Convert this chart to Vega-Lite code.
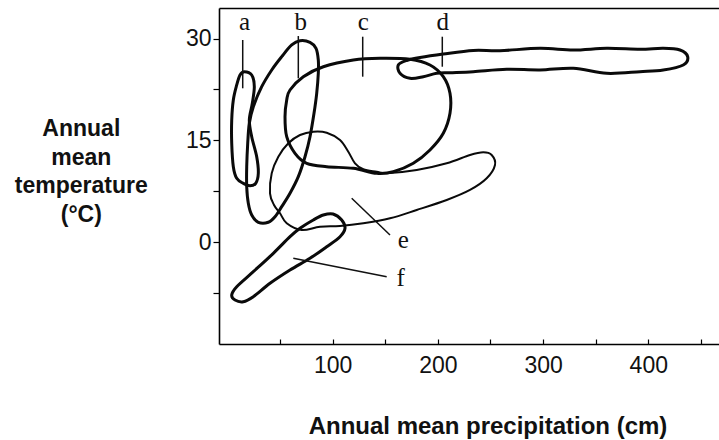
{
  "$schema": "https://vega.github.io/schema/vega-lite/v6.json",
  "width": 500,
  "height": 336,
  "autosize": {"type": "none"},
  "padding": {"left": 219, "top": 8, "right": 0, "bottom": 96},
  "background": "#ffffff",
  "config": {
    "view": {"stroke": null},
    "axis": {"grid": false, "domainColor": "#000000", "domainWidth": 1.6, "tickColor": "#000000", "tickWidth": 1.2, "labelColor": "#111111", "titleColor": "#111111", "labelFont": "Liberation Sans", "titleFont": "Liberation Sans"}
  },
  "datasets": {
    "curves": [
      {"biome":"a","order":0,"precipitation":16.06,"temperature":25.12},
      {"biome":"a","order":1,"precipitation":23.09,"temperature":24.63},
      {"biome":"a","order":2,"precipitation":25.56,"temperature":22.91},
      {"biome":"a","order":3,"precipitation":23.66,"temperature":20.46},
      {"biome":"a","order":4,"precipitation":20.81,"temperature":18.0},
      {"biome":"a","order":5,"precipitation":23.09,"temperature":15.54},
      {"biome":"a","order":6,"precipitation":27.84,"temperature":12.59},
      {"biome":"a","order":7,"precipitation":29.36,"temperature":10.15},
      {"biome":"a","order":8,"precipitation":26.89,"temperature":8.67},
      {"biome":"a","order":9,"precipitation":21.48,"temperature":8.32},
      {"biome":"a","order":10,"precipitation":15.11,"temperature":8.67},
      {"biome":"a","order":11,"precipitation":8.84,"temperature":9.41},
      {"biome":"a","order":12,"precipitation":5.61,"temperature":11.12},
      {"biome":"a","order":13,"precipitation":4.09,"temperature":14.57},
      {"biome":"a","order":14,"precipitation":4.09,"temperature":18.0},
      {"biome":"a","order":15,"precipitation":5.61,"temperature":20.95},
      {"biome":"a","order":16,"precipitation":8.84,"temperature":23.16},
      {"biome":"a","order":17,"precipitation":11.97,"temperature":24.63},

      {"biome":"b","order":0,"precipitation":68.99,"temperature":29.68},
      {"biome":"b","order":1,"precipitation":78.49,"temperature":29.45},
      {"biome":"b","order":2,"precipitation":84.2,"temperature":28.56},
      {"biome":"b","order":3,"precipitation":86.38,"temperature":26.84},
      {"biome":"b","order":4,"precipitation":86.38,"temperature":24.88},
      {"biome":"b","order":5,"precipitation":84.86,"temperature":21.93},
      {"biome":"b","order":6,"precipitation":82.3,"temperature":18.99},
      {"biome":"b","order":7,"precipitation":78.49,"temperature":15.54},
      {"biome":"b","order":8,"precipitation":73.74,"temperature":12.59},
      {"biome":"b","order":9,"precipitation":67.38,"temperature":9.65},
      {"biome":"b","order":10,"precipitation":59.49,"temperature":7.2},
      {"biome":"b","order":11,"precipitation":51.6,"temperature":5.23},
      {"biome":"b","order":12,"precipitation":45.23,"temperature":3.75},
      {"biome":"b","order":13,"precipitation":38.87,"temperature":2.93},
      {"biome":"b","order":14,"precipitation":29.36,"temperature":2.93},
      {"biome":"b","order":15,"precipitation":23.09,"temperature":4.0},
      {"biome":"b","order":16,"precipitation":19.86,"temperature":5.73},
      {"biome":"b","order":17,"precipitation":18.34,"temperature":8.17},
      {"biome":"b","order":18,"precipitation":18.34,"temperature":11.12},
      {"biome":"b","order":19,"precipitation":19.29,"temperature":14.57},
      {"biome":"b","order":20,"precipitation":20.81,"temperature":17.51},
      {"biome":"b","order":21,"precipitation":24.61,"temperature":19.96},
      {"biome":"b","order":22,"precipitation":32.6,"temperature":22.91},
      {"biome":"b","order":23,"precipitation":42.1,"temperature":25.37},
      {"biome":"b","order":24,"precipitation":51.6,"temperature":27.33},
      {"biome":"b","order":25,"precipitation":61.1,"temperature":29.05},

      {"biome":"c","order":0,"precipitation":59.49,"temperature":22.42},
      {"biome":"c","order":1,"precipitation":72.13,"temperature":24.38},
      {"biome":"c","order":2,"precipitation":91.13,"temperature":25.85},
      {"biome":"c","order":3,"precipitation":119.64,"temperature":26.84},
      {"biome":"c","order":4,"precipitation":145.02,"temperature":27.09},
      {"biome":"c","order":5,"precipitation":173.52,"temperature":26.94},
      {"biome":"c","order":6,"precipitation":192.53,"temperature":26.1},
      {"biome":"c","order":7,"precipitation":205.17,"temperature":24.38},
      {"biome":"c","order":8,"precipitation":211.54,"temperature":21.93},
      {"biome":"c","order":9,"precipitation":211.54,"temperature":18.99},
      {"biome":"c","order":10,"precipitation":205.17,"temperature":16.04},
      {"biome":"c","order":11,"precipitation":192.53,"temperature":13.58},
      {"biome":"c","order":12,"precipitation":176.66,"temperature":11.62},
      {"biome":"c","order":13,"precipitation":157.65,"temperature":10.38},
      {"biome":"c","order":14,"precipitation":141.88,"temperature":10.15},
      {"biome":"c","order":15,"precipitation":119.64,"temperature":10.88},
      {"biome":"c","order":16,"precipitation":94.37,"temperature":11.12},
      {"biome":"c","order":17,"precipitation":75.36,"temperature":11.62},
      {"biome":"c","order":18,"precipitation":64.24,"temperature":13.09},
      {"biome":"c","order":19,"precipitation":56.35,"temperature":15.54},
      {"biome":"c","order":20,"precipitation":54.74,"temperature":18.49},
      {"biome":"c","order":21,"precipitation":56.35,"temperature":20.95},

      {"biome":"d","order":0,"precipitation":164.02,"temperature":24.88},
      {"biome":"d","order":1,"precipitation":162.41,"temperature":26.1},
      {"biome":"d","order":2,"precipitation":170.39,"temperature":26.77},
      {"biome":"d","order":3,"precipitation":183.03,"temperature":27.21},
      {"biome":"d","order":4,"precipitation":205.17,"temperature":27.72},
      {"biome":"d","order":5,"precipitation":233.68,"temperature":28.24},
      {"biome":"d","order":6,"precipitation":259.05,"temperature":28.21},
      {"biome":"d","order":7,"precipitation":297.06,"temperature":28.56},
      {"biome":"d","order":8,"precipitation":328.71,"temperature":28.31},
      {"biome":"d","order":9,"precipitation":360.45,"temperature":28.56},
      {"biome":"d","order":10,"precipitation":392.09,"temperature":28.42},
      {"biome":"d","order":11,"precipitation":414.24,"temperature":28.56},
      {"biome":"d","order":12,"precipitation":430.11,"temperature":28.31},
      {"biome":"d","order":13,"precipitation":437.42,"temperature":27.33},
      {"biome":"d","order":14,"precipitation":433.24,"temperature":26.1},
      {"biome":"d","order":15,"precipitation":414.24,"temperature":25.37},
      {"biome":"d","order":16,"precipitation":392.09,"temperature":25.12},
      {"biome":"d","order":17,"precipitation":360.45,"temperature":24.88},
      {"biome":"d","order":18,"precipitation":328.71,"temperature":25.62},
      {"biome":"d","order":19,"precipitation":297.06,"temperature":25.37},
      {"biome":"d","order":20,"precipitation":265.42,"temperature":25.47},
      {"biome":"d","order":21,"precipitation":233.68,"temperature":25.12},
      {"biome":"d","order":22,"precipitation":211.54,"temperature":24.97},
      {"biome":"d","order":23,"precipitation":198.9,"temperature":24.88},
      {"biome":"d","order":24,"precipitation":186.16,"temperature":24.38},
      {"biome":"d","order":25,"precipitation":173.52,"temperature":24.14},

      {"biome":"e","order":0,"precipitation":68.99,"temperature":15.79},
      {"biome":"e","order":1,"precipitation":81.63,"temperature":16.28},
      {"biome":"e","order":2,"precipitation":94.37,"temperature":16.13},
      {"biome":"e","order":3,"precipitation":107.0,"temperature":15.05},
      {"biome":"e","order":4,"precipitation":114.89,"temperature":13.33},
      {"biome":"e","order":5,"precipitation":121.26,"temperature":11.62},
      {"biome":"e","order":6,"precipitation":129.15,"temperature":10.74},
      {"biome":"e","order":7,"precipitation":141.88,"temperature":10.38},
      {"biome":"e","order":8,"precipitation":151.38,"temperature":10.15},
      {"biome":"e","order":9,"precipitation":179.89,"temperature":10.63},
      {"biome":"e","order":10,"precipitation":208.4,"temperature":11.62},
      {"biome":"e","order":11,"precipitation":230.54,"temperature":12.84},
      {"biome":"e","order":12,"precipitation":243.18,"temperature":13.24},
      {"biome":"e","order":13,"precipitation":251.16,"temperature":12.84},
      {"biome":"e","order":14,"precipitation":254.3,"temperature":11.37},
      {"biome":"e","order":15,"precipitation":246.41,"temperature":9.41},
      {"biome":"e","order":16,"precipitation":230.54,"temperature":7.69},
      {"biome":"e","order":17,"precipitation":208.4,"temperature":6.21},
      {"biome":"e","order":18,"precipitation":179.89,"temperature":4.74},
      {"biome":"e","order":19,"precipitation":154.52,"temperature":3.52},
      {"biome":"e","order":20,"precipitation":129.15,"temperature":2.78},
      {"biome":"e","order":21,"precipitation":107.0,"temperature":2.38},
      {"biome":"e","order":22,"precipitation":88.0,"temperature":2.28},
      {"biome":"e","order":23,"precipitation":70.61,"temperature":1.79},
      {"biome":"e","order":24,"precipitation":56.35,"temperature":2.78},
      {"biome":"e","order":25,"precipitation":49.99,"temperature":4.26},
      {"biome":"e","order":26,"precipitation":44.28,"temperature":5.48},
      {"biome":"e","order":27,"precipitation":40.48,"temperature":7.2},
      {"biome":"e","order":28,"precipitation":42.1,"temperature":10.15},
      {"biome":"e","order":29,"precipitation":48.37,"temperature":12.59},
      {"biome":"e","order":30,"precipitation":57.87,"temperature":14.57},

      {"biome":"f","order":0,"precipitation":81.63,"temperature":3.27},
      {"biome":"f","order":1,"precipitation":91.13,"temperature":4.0},
      {"biome":"f","order":2,"precipitation":100.35,"temperature":4.15},
      {"biome":"f","order":3,"precipitation":108.62,"temperature":3.27},
      {"biome":"f","order":4,"precipitation":111.76,"temperature":2.05},
      {"biome":"f","order":5,"precipitation":107.0,"temperature":0.81},
      {"biome":"f","order":6,"precipitation":94.37,"temperature":-0.67},
      {"biome":"f","order":7,"precipitation":78.49,"temperature":-2.37},
      {"biome":"f","order":8,"precipitation":59.49,"temperature":-4.1},
      {"biome":"f","order":9,"precipitation":40.48,"temperature":-6.06},
      {"biome":"f","order":10,"precipitation":24.61,"temperature":-8.03},
      {"biome":"f","order":11,"precipitation":15.11,"temperature":-8.77},
      {"biome":"f","order":12,"precipitation":7.22,"temperature":-8.52},
      {"biome":"f","order":13,"precipitation":4.09,"temperature":-7.78},
      {"biome":"f","order":14,"precipitation":8.84,"temperature":-6.56},
      {"biome":"f","order":15,"precipitation":24.61,"temperature":-4.35},
      {"biome":"f","order":16,"precipitation":43.62,"temperature":-1.64},
      {"biome":"f","order":17,"precipitation":59.49,"temperature":0.81},
      {"biome":"f","order":18,"precipitation":68.99,"temperature":2.05}
    ],
    "pointers": [
      {"biome":"a","precipitation":14.54,"temperature":29.79,"precipitation2":14.54,"temperature2":22.67},
      {"biome":"b","precipitation":67.38,"temperature":30.37,"precipitation2":67.38,"temperature2":24.14},
      {"biome":"c","precipitation":128.58,"temperature":30.27,"precipitation2":128.58,"temperature2":24.38},
      {"biome":"d","precipitation":204.22,"temperature":30.27,"precipitation2":204.22,"temperature2":25.85},
      {"biome":"e","precipitation":118.12,"temperature":6.47,"precipitation2":154.52,"temperature2":1.06},
      {"biome":"f","precipitation":62.62,"temperature":-2.37,"precipitation2":151.38,"temperature2":-5.08}
    ],
    "labels": [
      {"biome":"a","precipitation":16.25,"temperature":31.19},
      {"biome":"b","precipitation":69.75,"temperature":31.19},
      {"biome":"c","precipitation":129.15,"temperature":31.19},
      {"biome":"d","precipitation":204.6,"temperature":31.19},
      {"biome":"e","precipitation":167.16,"temperature":-0.9},
      {"biome":"f","precipitation":164.69,"temperature":-6.45}
    ]
  },
  "layer": [
    {
      "data": {"name": "curves"},
      "transform": [{"filter": "datum.biome != 'e'"}],
      "mark": {"type": "line", "interpolate": "cardinal-closed", "stroke": "#0a0a0a", "strokeWidth": 3, "strokeCap": "round", "strokeJoin": "round"},
      "encoding": {
        "x": {"field": "precipitation", "type": "quantitative", "scale": {"domain": [-8, 467.2], "nice": false, "zero": false},
          "axis": {"orient": "bottom", "values": [50, 100, 150, 200, 250, 300, 350, 400, 450], "labelExpr": "datum.value % 100 == 0 ? datum.label : ''", "tickSize": -5, "labelPadding": 15, "labelFontSize": 23, "labelBaseline": "top",
            "title": "Annual mean precipitation (cm)", "titleFontSize": 24, "titleFontWeight": "bold", "titleX": 268.5, "titleY": 89.3, "titleAlign": "center", "titleBaseline": "alphabetic"}},
        "y": {"field": "temperature", "type": "quantitative", "scale": {"domain": [-15, 34.5], "nice": false, "zero": false},
          "axis": {"values": [-7.5, 0, 7.5, 15, 22.5, 30], "labelExpr": "datum.value % 15 == 0 ? datum.label : ''", "tickSize": 6, "labelPadding": 2, "labelFontSize": 23,
            "title": ["Annual", "mean", "temperature", "(°C)"], "titleAngle": 0, "titleFontSize": 23, "titleFontWeight": "bold", "titleLineHeight": 28.8, "titleX": -138.2, "titleY": 127.3, "titleAlign": "center", "titleBaseline": "alphabetic"}},
        "detail": {"field": "biome"},
        "order": {"field": "order", "type": "quantitative"}
      }
    },
    {
      "data": {"name": "curves"},
      "transform": [{"filter": "datum.biome == 'e'"}],
      "mark": {"type": "line", "interpolate": "cardinal-closed", "stroke": "#0a0a0a", "strokeWidth": 2, "strokeCap": "round", "strokeJoin": "round"},
      "encoding": {
        "x": {"field": "precipitation", "type": "quantitative", "axis": {"orient": "top", "labels": false, "ticks": false, "title": null, "domainWidth": 1.6}},
        "y": {"field": "temperature", "type": "quantitative", "axis": null},
        "detail": {"field": "biome"},
        "order": {"field": "order", "type": "quantitative"}
      }
    },
    {
      "data": {"name": "pointers"},
      "mark": {"type": "rule", "stroke": "#111111", "strokeWidth": 1.5},
      "encoding": {
        "x": {"field": "precipitation", "type": "quantitative", "axis": null},
        "y": {"field": "temperature", "type": "quantitative", "axis": null},
        "x2": {"field": "precipitation2"},
        "y2": {"field": "temperature2"}
      }
    },
    {
      "data": {"name": "labels"},
      "mark": {"type": "text", "font": "Liberation Serif", "fontSize": 25, "align": "center", "baseline": "alphabetic", "color": "#111111"},
      "encoding": {
        "x": {"field": "precipitation", "type": "quantitative", "axis": null},
        "y": {"field": "temperature", "type": "quantitative", "axis": null},
        "text": {"field": "biome"}
      }
    }
  ],
  "resolve": {"axis": {"x": "independent", "y": "independent"}}
}
